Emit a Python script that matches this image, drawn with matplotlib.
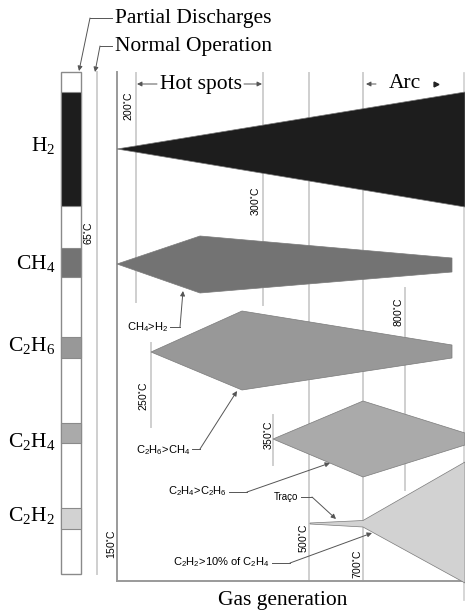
import matplotlib.pyplot as plt
import matplotlib.patches as mpatches

plt.rcParams['mathtext.default'] = 'regular'
SERIF = 'Liberation Serif'
SANS = 'Liberation Sans'

# Gas rows (left key bar): label, colour, block extent, label height
gases = ['H$_2$', 'CH$_4$', 'C$_2$H$_6$', 'C$_2$H$_4$', 'C$_2$H$_2$']
gas_colors = ['#1d1d1d', '#737373', '#989898', '#aaaaaa', '#d2d2d2']
block_top = [92, 248, 337, 423, 508]
block_bottom = [206, 277, 358, 443, 529]
label_y = [146, 263, 345, 441, 515]

# Gas generation shapes (x along the temperature scale, y in the diagram)
shape_x = [
    [117, 465, 465],
    [117, 200, 452, 452, 200],
    [151, 242, 452, 452, 242],
    [273, 363, 465, 465, 363],
    [310, 363, 465, 465, 363, 310],
]
shape_y = [
    [149, 92, 207],
    [264, 236, 258, 272, 293],
    [352, 311, 345, 358, 390],
    [439, 401, 433, 445, 477],
    [523, 520.5, 462, 583, 527, 524],
]

# Temperature marks
temps = ['65', '150', '200', '250', '300', '350', '500', '700', '800']
temp_x = [97, 117, 136, 151, 263, 273, 309, 363, 405]
temp_y0 = [72, 72, 73, 343, 73, 415, 73, 73, 288]
temp_y1 = [574, 581, 302, 427, 305, 465, 581, 581, 490]
temp_lx = [88, 111, 128, 143, 255, 268, 303, 357, 398]
temp_ly = [233, 544, 106, 396, 201, 435, 538, 564, 312]

# Annotations: text, text anchor (right edge), leader path ending at arrow tip
notes = ['CH$_4$>H$_2$', 'C$_2$H$_6$>CH$_4$', 'C$_2$H$_4$>C$_2$H$_6$', 'Traço',
         'C$_2$H$_2$>10% of C$_2$H$_4$']
note_x = [168, 190, 227, 298, 270]
note_y = [327, 450, 491, 497, 562]
note_path = [
    [(170, 327), (180, 327), (183, 291)],
    [(192, 449), (200, 449), (237, 391)],
    [(229, 492), (247, 492), (330, 463)],
    [(301, 497), (312, 497), (336, 519)],
    [(272, 563), (290, 563), (372, 533)],
]

fig = plt.figure(figsize=(4.65, 6.12), dpi=100)
ax = fig.add_axes([0, 0, 1, 1])
ax.set_xlim(0, 465)
ax.set_ylim(612, 0)
ax.axis('off')

# left key bar
ax.add_patch(mpatches.Rectangle((61, 72), 20, 502, facecolor='white',
                                edgecolor='#8a8a8a', lw=1, zorder=1))
for g, c, t, b, ly in zip(gases, gas_colors, block_top, block_bottom, label_y):
    ax.add_patch(mpatches.Rectangle((61, t), 20, b - t, facecolor=c,
                                    edgecolor='#8a8a8a', lw=0.8, zorder=2))
    ax.text(55, ly, g, family=SERIF, fontsize=15.5, ha='right', va='center')

# temperature lines and labels
for lab, x, y0, y1, lx, ly in zip(temps, temp_x, temp_y0, temp_y1, temp_lx, temp_ly):
    col = '#9a9a9a' if lab == '150' else '#cfcfcf'
    ax.plot([x, x], [y0, y1], color=col, lw=1.4, zorder=1)
    ax.text(lx, ly, lab + r'$^{\circ}$C', family=SANS, fontsize=7.5, rotation=90,
            ha='center', va='center')
ax.plot([117, 465], [581, 581], color='#9a9a9a', lw=1.4, zorder=1)
ax.plot([464, 464], [73, 600], color='#cfcfcf', lw=1.2, zorder=1)

# gas shapes
for xs, ys, c in zip(shape_x, shape_y, gas_colors):
    ax.fill(xs, ys, facecolor=c, edgecolor='#7a7a7a', lw=0.5, zorder=3)

# annotations
arrow = dict(arrowstyle='-|>', color='#555555', lw=0.7, mutation_scale=7,
             shrinkA=0, shrinkB=0)
for txt, tx, ty, path in zip(notes, note_x, note_y, note_path):
    fs = 7 if txt == 'Traço' else 8
    ax.text(tx, ty, txt, family=SANS, fontsize=fs, ha='right', va='center')
    xs = [p[0] for p in path[:-1]]
    ys = [p[1] for p in path[:-1]]
    ax.plot(xs, ys, color='#555555', lw=0.7, zorder=4)
    ax.annotate('', xy=path[-1], xytext=path[-2], arrowprops=arrow, zorder=4)

# top legend labels
ax.text(115, 19, 'Partial Discharges', family=SERIF, fontsize=15.5, va='center')
ax.text(115, 47, 'Normal Operation', family=SERIF, fontsize=15.5, va='center')
ax.plot([112, 90], [18, 18], color='#555555', lw=0.7)
ax.annotate('', xy=(79, 71), xytext=(90, 18), arrowprops=arrow)
ax.plot([112, 100], [46, 46], color='#555555', lw=0.7)
ax.annotate('', xy=(95, 72), xytext=(100, 46), arrowprops=arrow)

# region headers
ax.text(201, 84, 'Hot spots', family=SERIF, fontsize=15.5, ha='center', va='center')
ax.annotate('', xy=(137, 84), xytext=(157, 84), arrowprops=arrow)
ax.annotate('', xy=(262, 84), xytext=(244, 84), arrowprops=arrow)
ax.text(405, 84, 'Arc', family=SERIF, fontsize=15.5, ha='center', va='center')
ax.annotate('', xy=(366, 84), xytext=(376, 84), arrowprops=arrow)
ax.plot([436], [84], marker='>', color='#222222', markersize=3.5)

ax.text(283, 600, 'Gas generation', family=SERIF, fontsize=15.5, ha='center', va='center')

fig.savefig('out.png', dpi=100)
